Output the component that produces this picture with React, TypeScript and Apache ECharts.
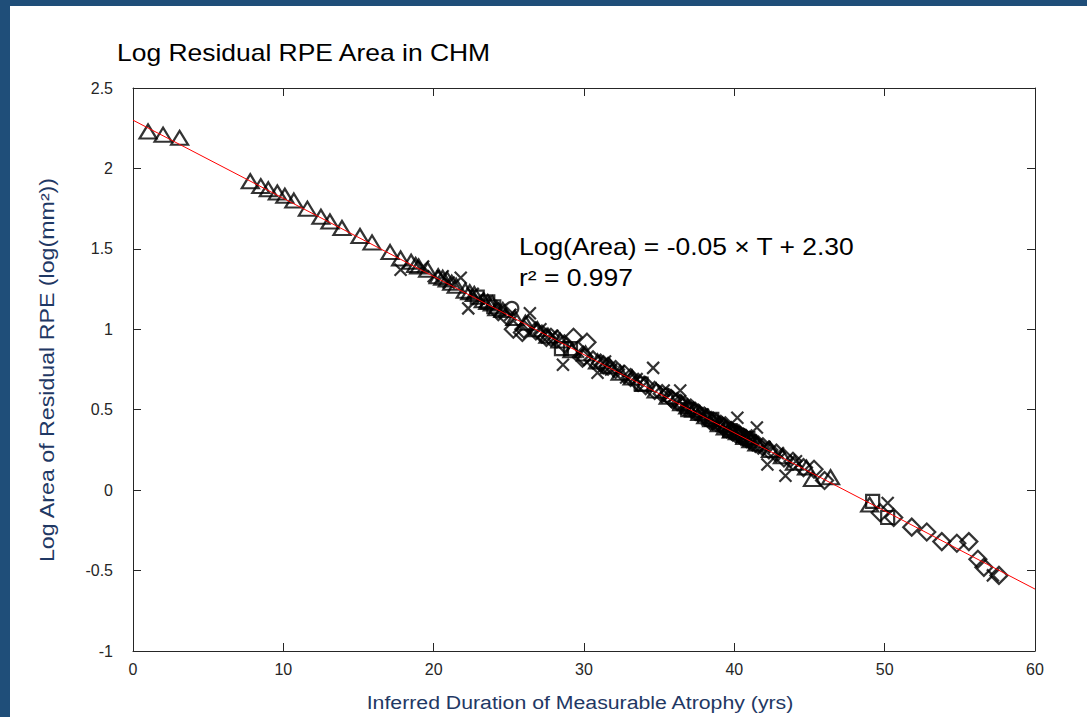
import React, { useEffect, useRef } from "react";
import * as echarts from "echarts";

// ---- data (T = inferred duration in years, y = log area) ----
const triangleT = [1.0, 2.0, 3.1, 7.8, 8.5, 9.0, 9.6, 10.1, 10.7, 11.6, 12.5, 13.1, 13.9, 15.1, 15.9, 17.1, 17.8, 18.5, 18.8, 19.0, 19.6, 20.3, 20.6, 20.9, 21.2, 21.5, 22.1, 22.4, 22.7, 23.3, 23.6, 23.9, 24.2, 24.6, 25.4, 26.1, 26.9, 27.6, 28.4, 29.2, 30.1, 30.9, 31.7, 32.4, 33.2, 34.0, 34.8, 35.6, 36.5, 36.9, 37.3, 37.7, 38.1, 38.5, 39.0, 39.4, 39.8, 40.2, 40.7, 41.1, 41.5, 42.4, 43.2, 44.0, 44.8, 45.2, 46.4, 49.0];
const triangleY = [2.23, 2.21, 2.19, 1.92, 1.89, 1.87, 1.85, 1.83, 1.80, 1.75, 1.70, 1.67, 1.63, 1.58, 1.54, 1.48, 1.44, 1.42, 1.40, 1.39, 1.37, 1.33, 1.32, 1.31, 1.29, 1.27, 1.24, 1.23, 1.22, 1.18, 1.17, 1.16, 1.13, 1.12, 1.07, 1.04, 1.00, 0.96, 0.93, 0.87, 0.85, 0.80, 0.77, 0.73, 0.70, 0.66, 0.62, 0.58, 0.54, 0.52, 0.50, 0.48, 0.46, 0.44, 0.41, 0.39, 0.37, 0.36, 0.33, 0.31, 0.29, 0.25, 0.21, 0.17, 0.14, 0.07, 0.08, -0.09];

const diamondT = [24.3, 24.9, 25.3, 25.9, 26.0, 26.3, 26.8, 27.2, 27.5, 27.8, 28.2, 28.7, 29.3, 29.9, 30.0, 30.2, 30.6, 31.1, 31.3, 31.6, 32.1, 32.7, 33.1, 33.6, 34.1, 34.7, 35.2, 35.8, 35.9, 36.2, 36.4, 36.7, 37.1, 37.4, 37.6, 38.0, 38.2, 38.4, 38.6, 38.8, 39.1, 39.2, 39.4, 39.5, 39.8, 39.9, 40.1, 40.3, 40.4, 40.6, 40.8, 41.0, 41.2, 41.4, 41.6, 41.9, 42.3, 42.8, 43.3, 43.9, 44.6, 45.3, 46.0, 49.7, 50.6, 51.8, 52.8, 53.8, 54.8, 55.6, 56.2, 56.6, 57.6];
const diamondY = [1.11, 1.08, 1.00, 0.98, 1.00, 1.03, 0.99, 0.97, 0.95, 0.95, 0.94, 0.91, 0.95, 0.82, 0.83, 0.92, 0.81, 0.79, 0.78, 0.77, 0.75, 0.72, 0.70, 0.67, 0.65, 0.62, 0.60, 0.57, 0.56, 0.55, 0.54, 0.53, 0.51, 0.49, 0.48, 0.46, 0.45, 0.43, 0.43, 0.42, 0.41, 0.40, 0.40, 0.38, 0.37, 0.36, 0.35, 0.35, 0.34, 0.33, 0.32, 0.31, 0.30, 0.29, 0.28, 0.27, 0.25, 0.23, 0.20, 0.18, 0.14, 0.13, 0.06, -0.14, -0.17, -0.23, -0.26, -0.32, -0.33, -0.32, -0.43, -0.48, -0.53];

const squareT = [22.9, 23.6, 24.0, 28.5, 29.1, 33.8, 36.9, 38.5, 39.7, 40.9, 49.2, 50.2];
const squareY = [1.20, 1.17, 1.14, 0.88, 0.88, 0.66, 0.50, 0.44, 0.37, 0.32, -0.07, -0.17];

const circleT = [25.2, 35.5, 40.5];
const circleY = [1.13, 0.59, 0.34];

const crossT = [17.8, 19.3, 20.0, 20.6, 21.0, 21.8, 22.3, 22.6, 23.0, 23.4, 24.4, 25.1, 26.4, 27.1, 27.9, 28.6, 29.6, 30.9, 31.4, 31.8, 32.3, 32.8, 33.5, 34.6, 35.3, 36.4, 36.8, 37.0, 37.5, 37.9, 38.2, 38.7, 38.9, 39.4, 39.6, 40.0, 40.2, 40.5, 40.8, 41.1, 41.5, 42.0, 42.2, 42.9, 43.4, 44.1, 50.2, 57.2];
const crossY = [1.37, 1.39, 1.33, 1.33, 1.29, 1.32, 1.13, 1.22, 1.19, 1.17, 1.12, 1.09, 1.10, 1.00, 0.96, 0.78, 0.86, 0.73, 0.80, 0.75, 0.74, 0.70, 0.69, 0.76, 0.62, 0.62, 0.51, 0.50, 0.48, 0.47, 0.44, 0.42, 0.41, 0.39, 0.37, 0.36, 0.45, 0.33, 0.34, 0.31, 0.39, 0.27, 0.16, 0.23, 0.09, 0.18, -0.08, -0.53];

const fitT = [0, 60];
const fitY = [2.30, -0.615];

const title = "Log Residual RPE Area in CHM";
const xName = "Inferred Duration of Measurable Atrophy (yrs)";
const yName = "Log Area of Residual RPE (log(mm\u00B2))";
const eqText = "Log(Area) = -0.05 \u00D7 T + 2.30";
const r2Text = "r\u00B2 = 0.997";

const zip = (a: number[], b: number[]) => a.map((v, i) => [v, b[i]]);

const FONT = "'Liberation Sans', Arial, Helvetica, sans-serif";
const NAVY = "#1f3864";

export default function App() {
  const ref = useRef<HTMLDivElement>(null);
  useEffect(() => {
    if (!ref.current) return;
    const chart = echarts.init(ref.current, undefined, { renderer: "svg" });
    const markerStyle = { color: "rgba(0,0,0,0)", borderColor: "#000", borderWidth: 2.2 };
    const axisCommon = {
      type: "value" as const,
      axisLine: { show: true, onZero: false, lineStyle: { color: "#262626", width: 1 } },
      axisTick: { show: true, inside: true, length: 8, lineStyle: { color: "#262626" } },
      splitLine: { show: false },
    };
    chart.setOption({
      animation: false,
      backgroundColor: "#ffffff",
      textStyle: { fontFamily: FONT },
      grid: { left: 133, top: 88, width: 902, height: 563, containLabel: false, outerBoundsMode: "none" },
      xAxis: [
        {
          ...axisCommon,
          position: "bottom",
          min: 0,
          max: 60,
          interval: 10,
          axisLabel: { color: "#262626", fontSize: 16, margin: 10, fontFamily: FONT },
        },
        {
          ...axisCommon,
          position: "top",
          min: 0,
          max: 60,
          interval: 10,
          axisLabel: { show: false },
        },
      ],
      yAxis: [
        {
          ...axisCommon,
          position: "left",
          min: -1,
          max: 2.5,
          interval: 0.5,
          axisLabel: { color: "#262626", fontSize: 16, margin: 20, padding: [0, 0, 11, 0], fontFamily: FONT },
        },
        {
          ...axisCommon,
          position: "right",
          min: -1,
          max: 2.5,
          interval: 0.5,
          axisLabel: { show: false },
        },
      ],
      series: [
        { type: "scatter", symbol: "triangle", symbolSize: [17, 14], itemStyle: markerStyle, data: zip(triangleT, triangleY), z: 2 },
        { type: "scatter", symbol: "diamond", symbolSize: 17, itemStyle: markerStyle, data: zip(diamondT, diamondY), z: 2 },
        { type: "scatter", symbol: "rect", symbolSize: 13, itemStyle: markerStyle, data: zip(squareT, squareY), z: 2 },
        { type: "scatter", symbol: "circle", symbolSize: 13, itemStyle: markerStyle, data: zip(circleT, circleY), z: 2 },
        { type: "scatter", symbol: "path://M0,0L10,10M10,0L0,10", symbolSize: 12, itemStyle: markerStyle, data: zip(crossT, crossY), z: 2 },
        {
          type: "line",
          data: zip(fitT, fitY),
          showSymbol: false,
          symbol: "none",
          lineStyle: { color: "#ff0000", width: 1 },
          z: 3,
          silent: true,
        },
      ],
      graphic: [
        { type: "rect", left: 0, top: 0, shape: { width: 10, height: 717 }, style: { fill: "#1f4e79" } },
        { type: "rect", left: 0, top: 0, shape: { width: 1087, height: 6 }, style: { fill: "#1f4e79" } },
        {
          type: "text", x: 117, y: 53, scaleX: 1.15,
          style: { text: title, fill: "#000", font: `23px ${FONT}`, align: "left", verticalAlign: "middle" },
        },
        {
          type: "text", x: 519, y: 247, scaleX: 1.15,
          style: { text: eqText, fill: "#000", font: `23px ${FONT}`, align: "left", verticalAlign: "middle" },
        },
        {
          type: "text", x: 519, y: 278, scaleX: 1.15,
          style: { text: r2Text, fill: "#000", font: `23px ${FONT}`, align: "left", verticalAlign: "middle" },
        },
        {
          type: "text", x: 580, y: 702, scaleX: 1.12,
          style: { text: xName, fill: NAVY, font: `19px ${FONT}`, align: "center", verticalAlign: "middle" },
        },
        {
          type: "text", x: 48, y: 370, rotation: Math.PI / 2, scaleX: 1.19,
          style: { text: yName, fill: NAVY, font: `19.5px ${FONT}`, align: "center", verticalAlign: "middle" },
        },
      ],
    });
    return () => chart.dispose();
  }, []);
  return (
    <div
      ref={ref}
      style={{ position: "fixed", left: 0, top: 0, width: 1087, height: 717, background: "#fff" }}
    />
  );
}
